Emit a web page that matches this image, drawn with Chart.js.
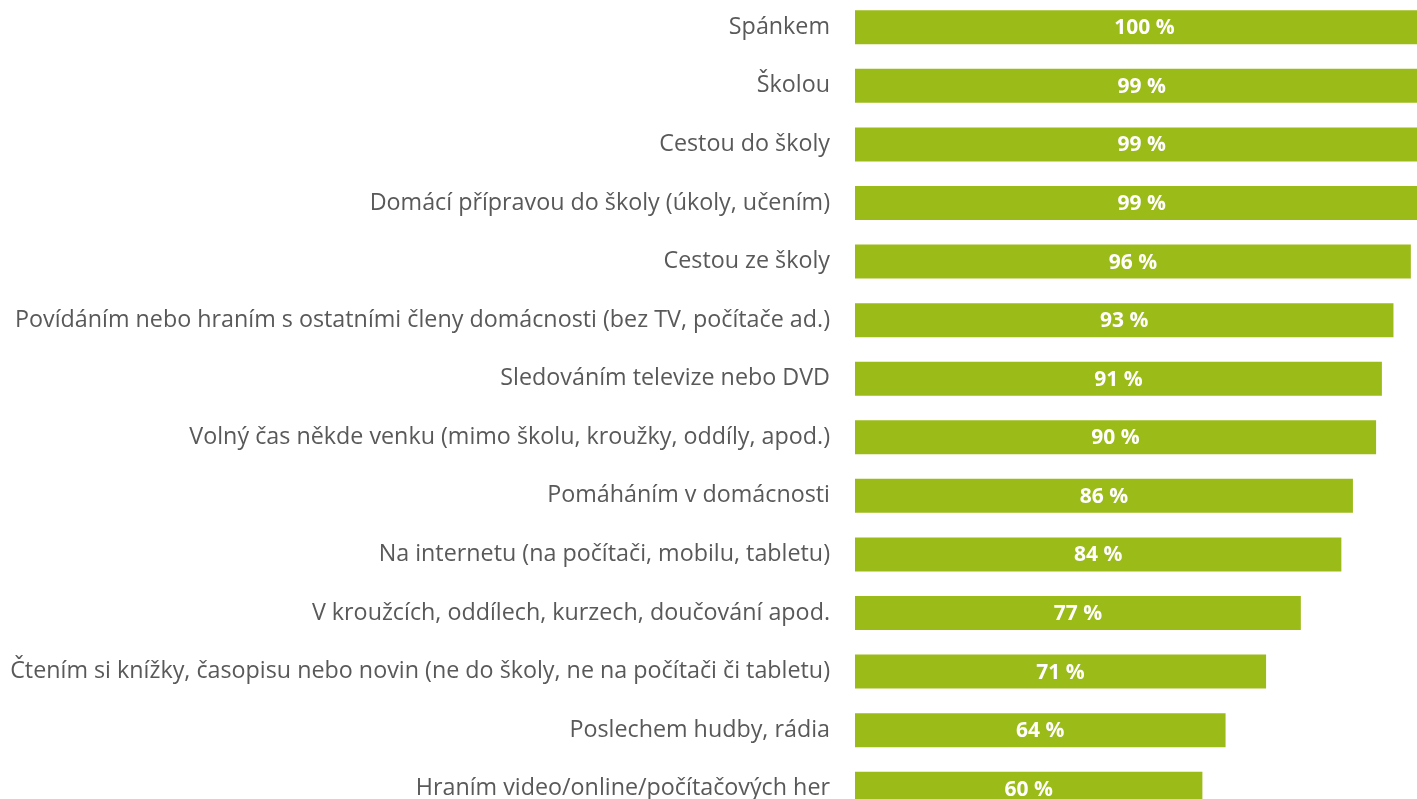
<!DOCTYPE html>
<html>
<head>
<meta charset="utf-8">
<script src="https://cdn.jsdelivr.net/npm/chart.js@4"></script>
<style>
  html, body { margin: 0; padding: 0; background: #fff; overflow: hidden; }
  #barChart { position: absolute; left: 0; top: -2px; }
</style>
</head>
<body>
<canvas id="barChart" width="1440" height="820"></canvas>
<script>
// Kategorie (osa Y)
var categories = [
  "Spánkem",
  "Školou",
  "Cestou do školy",
  "Domácí přípravou do školy (úkoly, učením)",
  "Cestou ze školy",
  "Povídáním nebo hraním s ostatními členy domácnosti (bez TV, počítače ad.)",
  "Sledováním televize nebo DVD",
  "Volný čas někde venku (mimo školu, kroužky, oddíly, apod.)",
  "Pomáháním v domácnosti",
  "Na internetu (na počítači, mobilu, tabletu)",
  "V kroužcích, oddílech, kurzech, doučování apod.",
  "Čtením si knížky, časopisu nebo novin (ne do školy, ne na počítači či tabletu)",
  "Poslechem hudby, rádia",
  "Hraním video/online/počítačových her"
];
// Hodnoty v procentech
var values = [100, 99, 99, 99, 96, 93, 91, 90, 86, 84, 77, 71, 64, 60];

var fontFamily = "'Open Sans', sans-serif";

// Popisky hodnot uvnitř sloupců
var valueLabels = {
  id: "valueLabels",
  afterDatasetsDraw: function (chart) {
    var ctx = chart.ctx;
    var meta = chart.getDatasetMeta(0);
    ctx.save();
    ctx.fillStyle = "#ffffff";
    ctx.font = "bold 21px " + fontFamily;
    ctx.textAlign = "center";
    ctx.textBaseline = "middle";
    meta.data.forEach(function (bar, i) {
      var cx = (bar.base + bar.x) / 2;
      ctx.fillText(values[i] + " %", cx, bar.y + 1);
    });
    ctx.restore();
  }
};

var ctx = document.getElementById("barChart").getContext("2d");
var myChart = new Chart(ctx, {
  type: "bar",
  data: {
    labels: categories,
    datasets: [
      {
        data: values,
        backgroundColor: "#9bbb19",
        borderWidth: 0,
        barPercentage: 0.58,
        categoryPercentage: 1.0
      }
    ]
  },
  plugins: [valueLabels],
  options: {
    indexAxis: "y",
    responsive: false,
    animation: false,
    layout: { padding: { left: 0, right: 6, top: 0, bottom: 0 } },
    plugins: {
      legend: { display: false },
      tooltip: { enabled: false }
    },
    scales: {
      x: {
        display: false,
        min: 0,
        max: 100
      },
      y: {
        grid: { display: false, drawTicks: false },
        border: { display: false },
        ticks: {
          color: "#595959",
          font: { family: fontFamily, size: 23.3 },
          padding: 25,
          autoSkip: false
        },
        afterFit: function (scale) {
          // pevna sirka osy a zadne okraje nahore/dole
          scale.width = 855;
          scale.paddingTop = 0;
          scale.paddingBottom = 0;
        }
      }
    }
  }
});
</script>
</body>
</html>
